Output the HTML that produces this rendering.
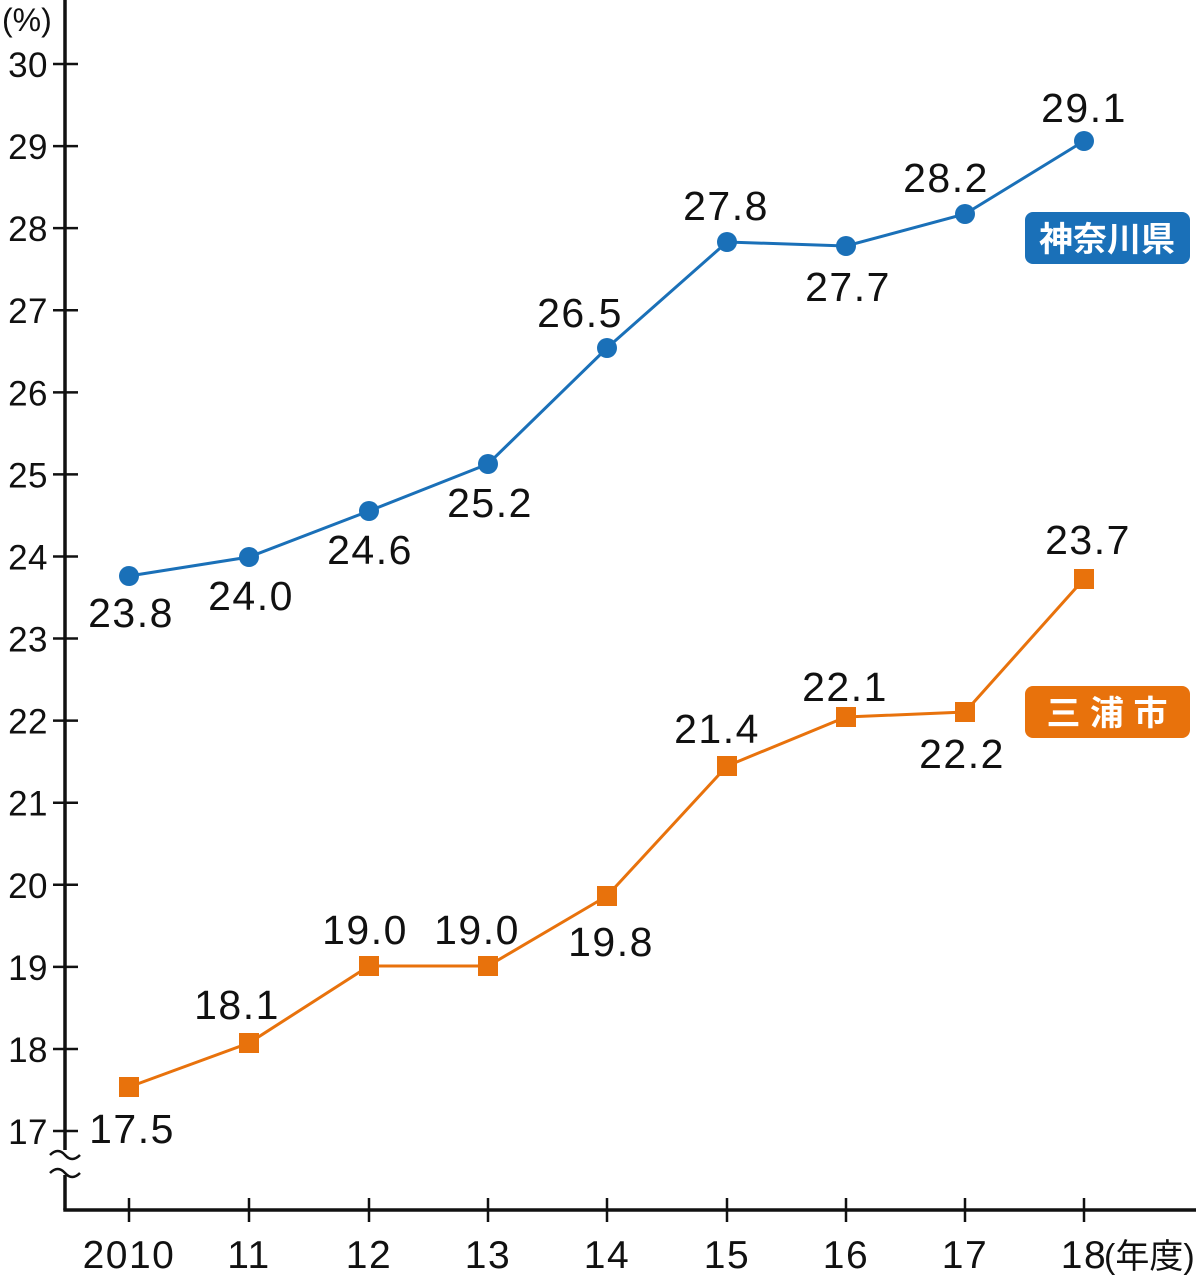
<!DOCTYPE html><html><head><meta charset="utf-8"><style>body{margin:0;background:#fff}svg{display:block}text{font-family:"Liberation Sans","Noto Sans CJK JP",sans-serif}</style></head><body>
<svg width="1200" height="1284" viewBox="0 0 1200 1284">
<g stroke="#111" stroke-width="3.5" fill="none">
<line x1="65" y1="0" x2="65" y2="1150"/>
<line x1="65" y1="1175" x2="65" y2="1210"/>
<line x1="63.3" y1="1210" x2="1196" y2="1210"/>
<path d="M50 1155 q8 -8 15 0 t15 0" stroke-width="2.5"/>
<path d="M50 1173 q8 -8 15 0 t15 0" stroke-width="2.5"/>
</g>
<g stroke="#111" stroke-width="2.5" id="yt"></g>
<g stroke="#111" stroke-width="2.5" id="xt"></g>
<g font-size="35" text-anchor="end" fill="#111" id="yl" letter-spacing="0.5"></g>
<text x="2" y="31" font-size="32" fill="#111">(%)</text>
<g font-size="39" text-anchor="middle" fill="#111" letter-spacing="1.5">
<text x="129" y="1268">2010</text><text x="249" y="1268">11</text><text x="369" y="1268">12</text><text x="488" y="1268">13</text><text x="607" y="1268">14</text><text x="727" y="1268">15</text><text x="846" y="1268">16</text><text x="965" y="1268">17</text><text x="1084" y="1268">18</text>
</g>
<text x="1104" y="1268" font-size="34" fill="#111">(年度)</text>
<polyline fill="none" stroke="#1a70b8" stroke-width="3" points="129,576 249,557 369,511 488,464 607,348 727,242 846,246 965,214 1084,141"/>
<g fill="#1a70b8"><circle cx="129" cy="576" r="10"/><circle cx="249" cy="557" r="10"/><circle cx="369" cy="511" r="10"/><circle cx="488" cy="464" r="10"/><circle cx="607" cy="348" r="10"/><circle cx="727" cy="242" r="10"/><circle cx="846" cy="246" r="10"/><circle cx="965" cy="214" r="10"/><circle cx="1084" cy="141" r="10"/></g>
<polyline fill="none" stroke="#e8720c" stroke-width="3" points="129,1087 249,1043 369,966 488,966 607,896 727,766 846,717 965,712 1084,579"/>
<g fill="#e8720c"><rect x="119" y="1077" width="20" height="20"/><rect x="239" y="1033" width="20" height="20"/><rect x="359" y="956" width="20" height="20"/><rect x="478" y="956" width="20" height="20"/><rect x="597" y="886" width="20" height="20"/><rect x="717" y="756" width="20" height="20"/><rect x="836" y="707" width="20" height="20"/><rect x="955" y="702" width="20" height="20"/><rect x="1074" y="569" width="20" height="20"/></g>
<g font-size="41" text-anchor="middle" fill="#111" letter-spacing="1.5">
<text x="131" y="627">23.8</text><text x="251" y="610">24.0</text><text x="370" y="564">24.6</text><text x="490" y="517">25.2</text><text x="580" y="327">26.5</text><text x="726" y="220">27.8</text><text x="848" y="301">27.7</text><text x="946" y="192">28.2</text><text x="1084" y="122">29.1</text>
<text x="132" y="1143">17.5</text><text x="237" y="1019">18.1</text><text x="365" y="944">19.0</text><text x="477" y="944">19.0</text><text x="611" y="956">19.8</text><text x="717" y="743">21.4</text><text x="845" y="701">22.1</text><text x="962" y="768">22.2</text><text x="1088" y="554">23.7</text>
</g>
<rect x="1025" y="212" width="165" height="52" rx="8" fill="#1a70b8"/>
<text x="1107" y="251" font-size="34" font-weight="bold" fill="#fff" text-anchor="middle">神奈川県</text>
<rect x="1025" y="686" width="165" height="52" rx="8" fill="#e8720c"/>
<text x="1107" y="725" font-size="34" font-weight="bold" fill="#fff" text-anchor="middle">三 浦 市</text>
<script>
var ns="http://www.w3.org/2000/svg";
for(var v=17;v<=30;v++){var y=64+(30-v)*82.08;var l=document.createElementNS(ns,"line");l.setAttribute("x1",53);l.setAttribute("x2",78);l.setAttribute("y1",y);l.setAttribute("y2",y);document.getElementById("yt").appendChild(l);
var t=document.createElementNS(ns,"text");t.setAttribute("x",48);t.setAttribute("y",y+13);t.textContent=v;document.getElementById("yl").appendChild(t);}
[129,249,369,488,607,727,846,965,1084].forEach(function(x){var l=document.createElementNS(ns,"line");l.setAttribute("x1",x);l.setAttribute("x2",x);l.setAttribute("y1",1198);l.setAttribute("y2",1222);document.getElementById("xt").appendChild(l);});
</script>
</svg></body></html>
